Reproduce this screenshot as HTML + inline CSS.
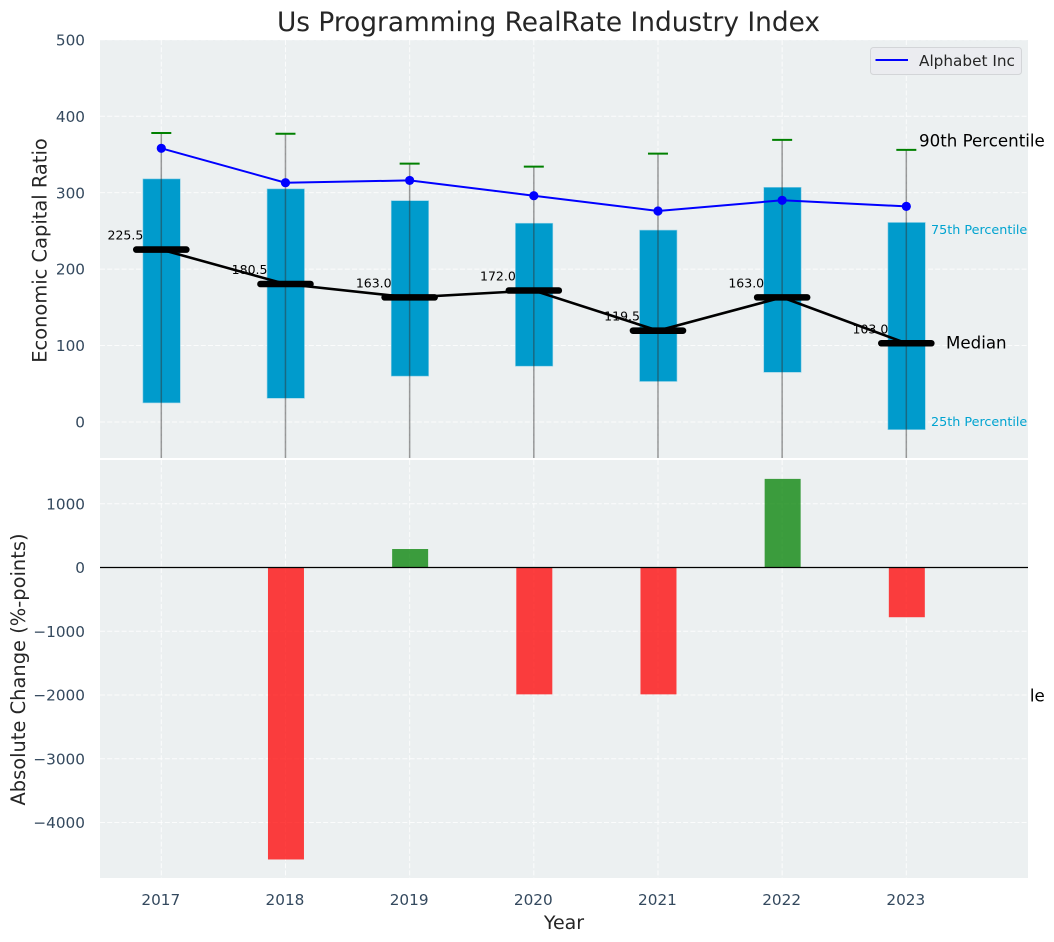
<!DOCTYPE html>
<html lang="en">
<head>
<meta charset="utf-8">
<title>Us Programming RealRate Industry Index</title>
<style>
html,body{margin:0;padding:0;background:#fff;width:1054px;height:942px;overflow:hidden}
svg{display:block;font-family:"DejaVu Sans","Liberation Sans",sans-serif}
</style>
</head>
<body>
<svg id="chart" width="1054" height="942" viewBox="0 0 1054 942" xmlns="http://www.w3.org/2000/svg">
  <rect x="0" y="0" width="1054" height="942" fill="#ffffff"/>
  <text x="548.5" y="31" text-anchor="middle" font-size="26.4" fill="#262626">Us Programming RealRate Industry Index</text>
  <g id="top"></g>
  <g id="bottom"></g>
  <g id="xticks"></g>
  <text transform="translate(46.5 250.5) rotate(-90)" text-anchor="middle" font-size="19.44" fill="#262626">Economic Capital Ratio</text>
  <text transform="translate(25 669.5) rotate(-90)" text-anchor="middle" font-size="19.44" fill="#262626">Absolute Change (%-points)</text>
  <text x="564" y="929" text-anchor="middle" font-size="19" fill="#262626">Year</text>
</svg>
<script>
const years = [2017, 2018, 2019, 2020, 2021, 2022, 2023];
const p90 = [378, 377, 338, 334, 351, 369, 356];
const p75 = [318, 305, 289.5, 260, 251, 307, 261];
const medians = [225.5, 180.5, 163.0, 172.0, 119.5, 163.0, 103.0];
const p25 = [25, 31, 60, 73, 53, 65, -10];
const p10 = [-300, -290, -280, -270, -320, -300, -354];
const company = [358, 313, 316, 296, 276, 290, 282];
const changes = [0, -4580, 290, -1990, -1990, 1390, -780];
const topTicks = [500, 400, 300, 200, 100, 0];
const bottomTicks = [1000, 0, -1000, -2000, -3000, -4000];

const NS = 'http://www.w3.org/2000/svg';
const PLOT_LEFT = 100, PLOT_RIGHT = 1028;
const TOP_Y0 = 40, TOP_Y1 = 458, BOT_Y0 = 460, BOT_Y1 = 878;
const xPos = v => 161.3 + (v - 2017) * 124.17;
const yTop = v => 422 - v * 0.7645;
const yBot = v => 567.5 - v * 0.06375;
const topG = document.getElementById('top');
const botG = document.getElementById('bottom');
const xG = document.getElementById('xticks');

function mk(tag, parent, attrs, txt) {
  const n = document.createElementNS(NS, tag);
  for (const k in attrs) n.setAttribute(k, attrs[k]);
  if (txt !== undefined) n.textContent = txt;
  parent.appendChild(n);
  return n;
}
function fmt(v) { return String(v).replace('-', '\u2212'); }
let el;

/* clip for the top axes */
const defs = mk('defs', topG, {});
const clip = mk('clipPath', defs, {id: 'topClip'});
mk('rect', clip, {x: PLOT_LEFT, y: TOP_Y0, width: PLOT_RIGHT - PLOT_LEFT, height: TOP_Y1 - TOP_Y0});

/* top axes background and grid */
el = mk('rect', topG, {x: PLOT_LEFT, y: TOP_Y0, width: PLOT_RIGHT - PLOT_LEFT, height: TOP_Y1 - TOP_Y0, fill: '#ecf0f1'});



topTicks.forEach(t => {
  el = mk('line', topG, {x1: PLOT_LEFT, x2: PLOT_RIGHT, y1: yTop(t), y2: yTop(t), stroke: '#fff', 'stroke-width': 1, 'stroke-dasharray': '5 2.2', opacity: .8});
  
  
  el = mk('text', topG, {x: 85, y: yTop(t) + 5.6, 'text-anchor': 'end', 'font-size': 15.28, fill: '#34495e'}, fmt(t));
  
  
});
years.forEach(y => {
  el = mk('line', topG, {x1: xPos(y), x2: xPos(y), y1: TOP_Y0, y2: TOP_Y1, stroke: '#fff', 'stroke-width': 1, 'stroke-dasharray': '5 2.2', opacity: .8});
  
  
});

/* boxes */
years.forEach((y, i) => {
  el = mk('rect', topG, {x: xPos(y) - 18.4, y: yTop(p75[i]), width: 37.4, height: yTop(p25[i]) - yTop(p75[i]), fill: '#009bcc', stroke: '#8fd0e6', 'stroke-width': .6});
  
  
});

/* whiskers and caps */
const clipped = mk('g', topG, {'clip-path': 'url(#topClip)'});
years.forEach((y, i) => {
  el = mk('line', clipped, {x1: xPos(y), x2: xPos(y), y1: yTop(p90[i]), y2: yTop(p10[i]), stroke: '#333', 'stroke-opacity': .48, 'stroke-width': 1.5});
  
  
  el = mk('line', clipped, {x1: xPos(y) - 10, x2: xPos(y) + 10, y1: yTop(p90[i]), y2: yTop(p90[i]), stroke: '#008000', 'stroke-width': 2});
  
  
});

/* median value labels */
years.forEach((y, i) => {
  el = mk('text', topG, {x: xPos(y) - 18, y: yTop(medians[i]) - 10, 'text-anchor': 'end', 'font-size': 12.5, fill: '#000'}, medians[i].toFixed(1));
  
  
});

/* median line */
el = mk('polyline', topG, {points: years.map((y, i) => xPos(y) + ',' + yTop(medians[i])).join(' '), fill: 'none', stroke: '#000', 'stroke-width': 2.6});


years.forEach((y, i) => {
  el = mk('line', topG, {x1: xPos(y) - 25, x2: xPos(y) + 25, y1: yTop(medians[i]), y2: yTop(medians[i]), stroke: '#000', 'stroke-width': 6.6, 'stroke-linecap': 'round'});
  
  
});

/* company line */
el = mk('polyline', topG, {points: years.map((y, i) => xPos(y) + ',' + yTop(company[i])).join(' '), fill: 'none', stroke: '#0000ff', 'stroke-width': 2});


years.forEach((y, i) => {
  el = mk('circle', topG, {cx: xPos(y), cy: yTop(company[i]), r: 4.6, fill: '#0000ff'});
  
  
});

/* right-hand annotations, anchored on the last year */
const last = years.length - 1;
const lastX = xPos(years[last]);
el = mk('text', topG, {x: lastX + 12.7, y: yTop(p90[last]) - 3.3, 'font-size': 16.67, fill: '#000'}, '90th Percentile');


el = mk('text', topG, {x: lastX + 12.7, y: yTop(p10[last]) + 9, 'font-size': 16.67, fill: '#000'}, '10th Percentile');


el = mk('text', topG, {x: lastX + 39.7, y: yTop(medians[last]) + 5.4, 'font-size': 16.67, fill: '#000'}, 'Median');


el = mk('text', topG, {x: lastX + 24.7, y: yTop(p75[last]) + 11.4, 'font-size': 12.75, fill: '#00a3d0'}, '75th Percentile');


el = mk('text', topG, {x: lastX + 24.7, y: yTop(p25[last]) - 3.4, 'font-size': 12.75, fill: '#00a3d0'}, '25th Percentile');



/* legend */
el = mk('rect', topG, {x: 870.5, y: 47.5, width: 151, height: 27, rx: 3, fill: '#ebecf0', stroke: '#d3d5d8', 'stroke-width': 1});


el = mk('line', topG, {x1: 875.5, x2: 908, y1: 60, y2: 60, stroke: '#0000ff', 'stroke-width': 2});


el = mk('text', topG, {x: 919, y: 66, 'font-size': 15.28, fill: '#262626'}, 'Alphabet Inc');



/* bottom axes */
el = mk('rect', botG, {x: 0, y: TOP_Y1, width: 1028, height: 2, fill: '#ffffff'});


el = mk('rect', botG, {x: PLOT_LEFT, y: BOT_Y0, width: PLOT_RIGHT - PLOT_LEFT, height: BOT_Y1 - BOT_Y0, fill: '#ecf0f1'});


el = mk('rect', botG, {x: PLOT_RIGHT, y: BOT_Y0, width: 2.4, height: BOT_Y1 - BOT_Y0, fill: '#ffffff'});



bottomTicks.forEach(t => {
  el = mk('line', botG, {x1: PLOT_LEFT, x2: PLOT_RIGHT, y1: yBot(t), y2: yBot(t), stroke: '#fff', 'stroke-width': 1, 'stroke-dasharray': '5 2.2', opacity: .8});
  
  
  el = mk('text', botG, {x: 85, y: yBot(t) + 5.6, 'text-anchor': 'end', 'font-size': 15.28, fill: '#34495e'}, fmt(t));
  
  
});
years.forEach(y => {
  el = mk('line', botG, {x1: xPos(y), x2: xPos(y), y1: BOT_Y0, y2: BOT_Y1, stroke: '#fff', 'stroke-width': 1, 'stroke-dasharray': '5 2.2', opacity: .8});
  
  
  el = mk('text', xG, {x: xPos(y) - 0.5, y: 905, 'text-anchor': 'middle', 'font-size': 15.28, fill: '#34495e'}, String(y));
  
  
});

/* change bars */
years.forEach((y, i) => {
  const v = changes[i];
  if (!v) return;
  const top = Math.min(yBot(v), yBot(0));
  const h = Math.abs(yBot(v) - yBot(0));
  el = mk('rect', botG, {x: xPos(y) - 17.5, y: top, width: 36, height: h, fill: v < 0 ? '#ff0000' : '#008000', 'fill-opacity': .75});
  
  
});

el = mk('line', botG, {x1: PLOT_LEFT, x2: PLOT_RIGHT, y1: yBot(0), y2: yBot(0), stroke: '#000', 'stroke-width': 1.3});


</script>
</body>
</html>
